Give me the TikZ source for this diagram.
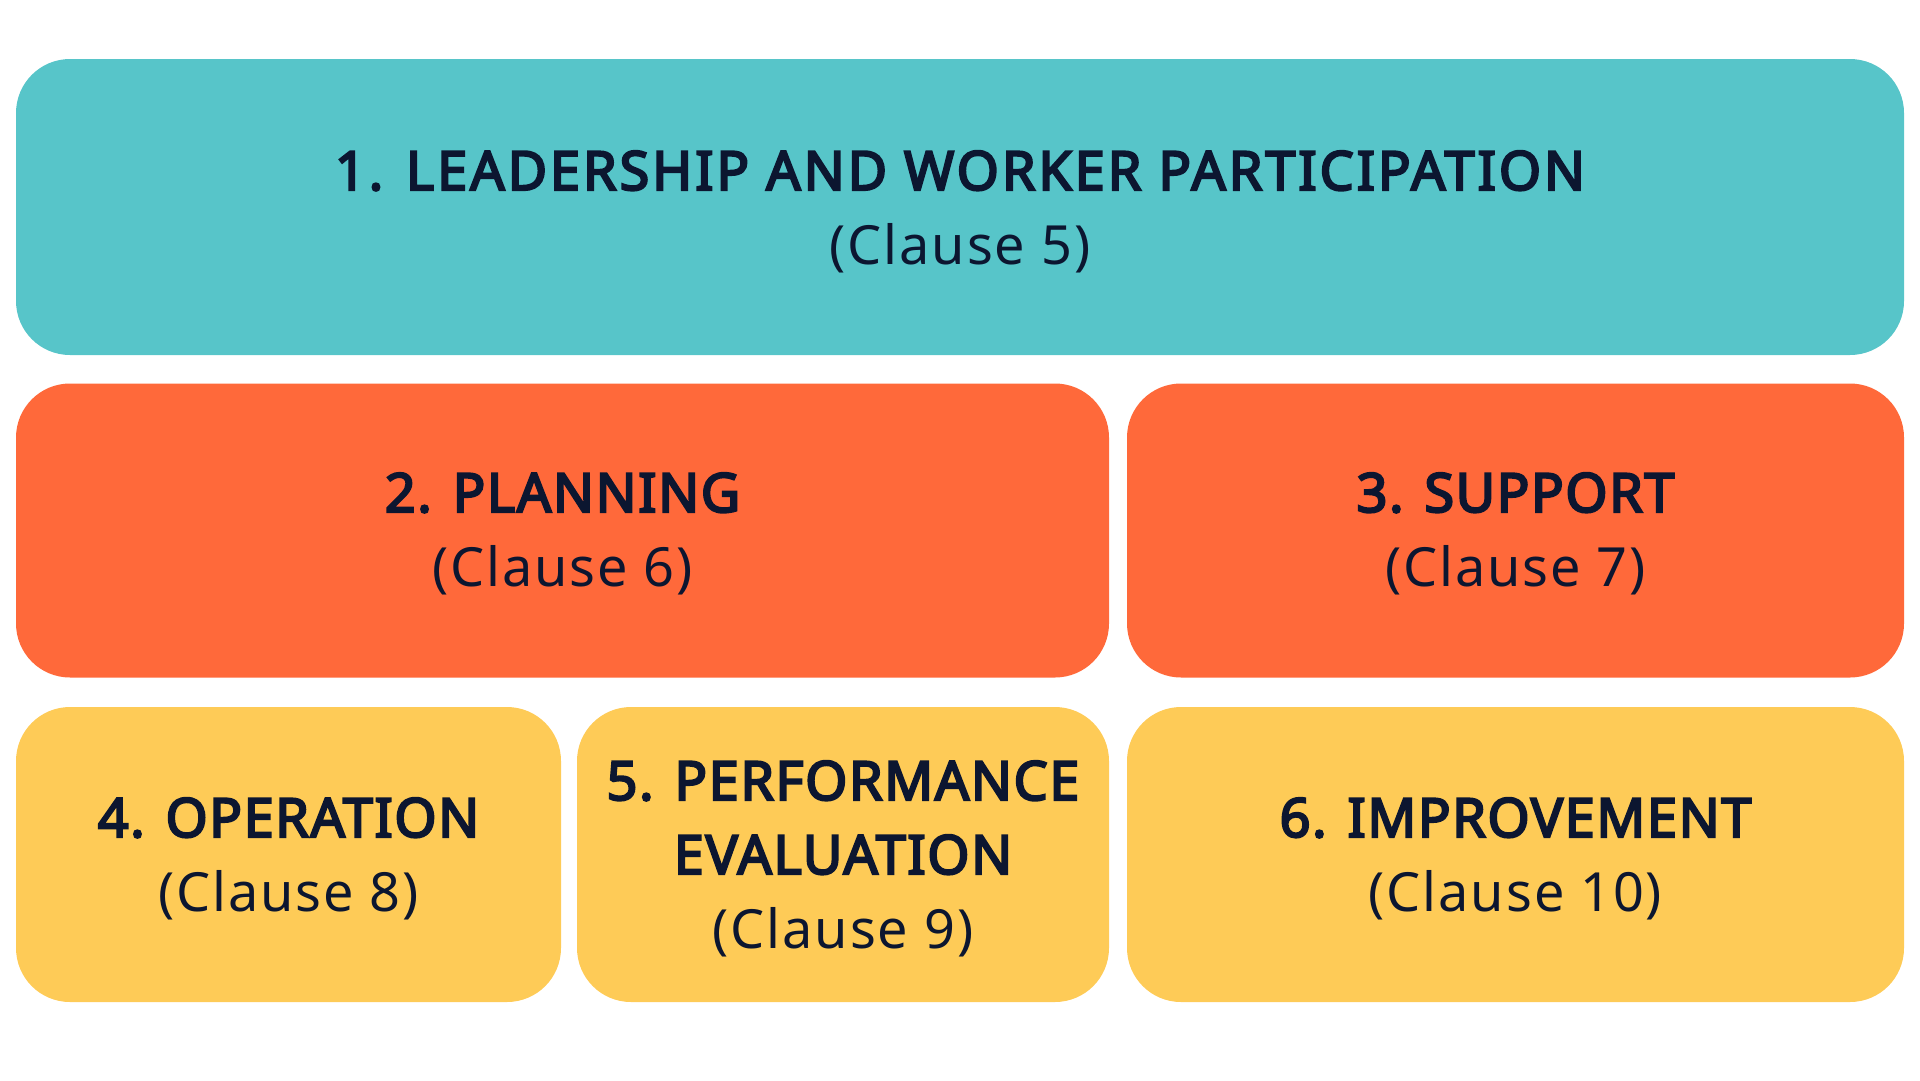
\documentclass[tikz,border=0pt]{standalone}
\usepackage{fontspec}
\setmainfont{Noto Sans}
\newfontfamily\clausefont{Noto Sans}[LetterSpace=3.5]
\newfontfamily\headfont{Noto Sans}[FakeBold=4,LetterSpace=3]
\newfontfamily\headwidefont{Noto Sans}[FakeBold=4,LetterSpace=5.5]
\definecolor{teal1}{HTML}{57C5C9}
\definecolor{orange1}{HTML}{FF693A}
\definecolor{yellow1}{HTML}{FECB57}
\definecolor{ink}{HTML}{0C1630}
\tikzset{
  box/.style={rectangle, rounded corners=54pt, inner sep=0pt, draw=none},
  head/.style={anchor=base, inner sep=0pt, text=ink, font=\headfont\fontsize{54}{60}\selectfont},
  headwide/.style={head, font=\headwidefont\fontsize{54}{60}\selectfont},
  clause/.style={anchor=base, inner sep=0pt, text=ink, font=\clausefont\fontsize{54}{60}\selectfont},
}
\begin{document}
\begin{tikzpicture}[x=1pt,y=-1pt]
\useasboundingbox (0,0) rectangle (1920,1080);
% boxes
\node[box, fill=teal1, minimum width=1888pt, minimum height=296pt] (b1) at (960,207) {};
\node[box, fill=orange1, minimum width=1093pt, minimum height=294pt] (b2) at (562.5,530.5) {};
\node[box, fill=orange1, minimum width=777pt, minimum height=294pt] (b3) at (1515.5,530.5) {};
\node[box, fill=yellow1, minimum width=545pt, minimum height=295pt] (b4) at (288.5,854.5) {};
\node[box, fill=yellow1, minimum width=532pt, minimum height=295pt] (b5) at (843,854.5) {};
\node[box, fill=yellow1, minimum width=777pt, minimum height=295pt] (b6) at (1515.5,854.5) {};
% texts
\node[headwide] (t1a) at (960,190) {1. LEADERSHIP AND WORKER PARTICIPATION};
\node[clause] (t1b) at (960,264) {(Clause 5)};
\node[head] (t2a) at (562.5,512) {2. PLANNING};
\node[clause] (t2b) at (562.5,586) {(Clause 6)};
\node[head] (t3a) at (1515.5,512) {3. SUPPORT};
\node[clause] (t3b) at (1515.5,586) {(Clause 7)};
\node[head] (t4a) at (288.5,837) {4. OPERATION};
\node[clause] (t4b) at (288.5,911) {(Clause 8)};
\node[head] (t5a) at (843,800) {5. PERFORMANCE};
\node[head] (t5b) at (843,874) {EVALUATION};
\node[clause] (t5c) at (843,948) {(Clause 9)};
\node[head] (t6a) at (1515.5,837) {6. IMPROVEMENT};
\node[clause] (t6b) at (1515.5,911) {(Clause 10)};
\end{tikzpicture}
\end{document}
